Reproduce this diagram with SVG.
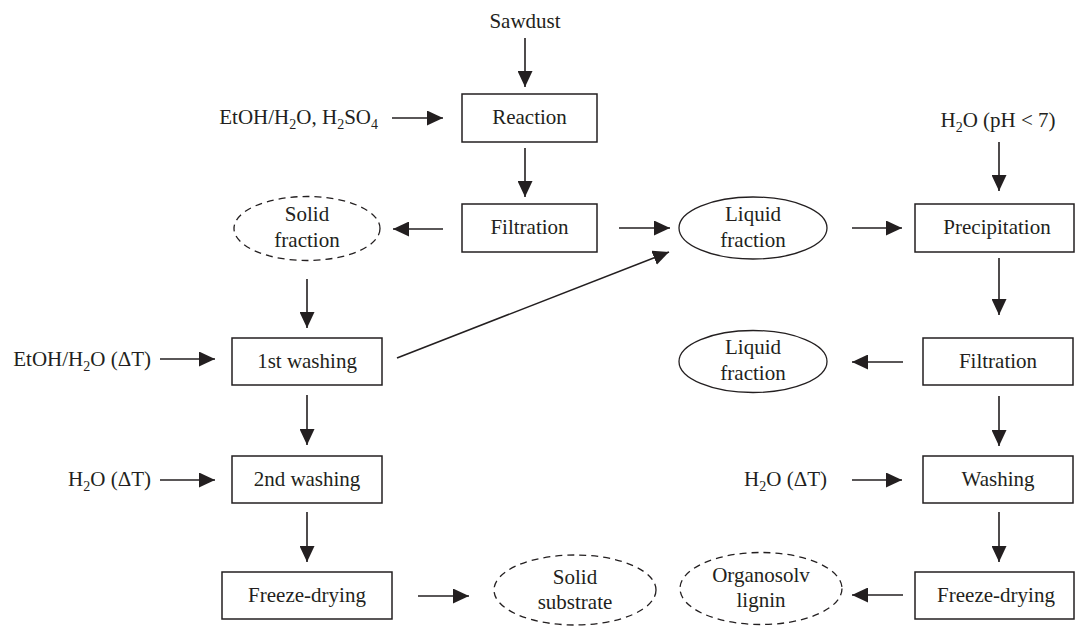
<svg xmlns="http://www.w3.org/2000/svg" width="1075" height="626" viewBox="0 0 1075 626">
<defs>
<marker id="ah" markerUnits="userSpaceOnUse" markerWidth="17" markerHeight="15" refX="16" refY="7.5" orient="auto">
<path d="M0,0 L16,7.5 L0,15 z" fill="#231f20"/>
</marker>
<style>
.box{fill:#fff;stroke:#231f20;stroke-width:1.5}
.ell{fill:#fff;stroke:#231f20;stroke-width:1.3}
.dash{stroke-dasharray:7 5}
.t{font-family:"Liberation Serif","Times New Roman",serif;font-size:21px;fill:#231f20}
.m{text-anchor:middle}
.e{text-anchor:end}
.c line{stroke:#231f20;stroke-width:1.6;marker-end:url(#ah)}
</style>
</defs>
<rect width="1075" height="626" fill="#fff"/>

<g class="c" id="connectors">
<line x1="525" y1="38" x2="525" y2="87"/>
<line x1="392" y1="118" x2="443" y2="118"/>
<line x1="525" y1="148" x2="525" y2="197"/>
<line x1="443" y1="229" x2="393" y2="229"/>
<line x1="619" y1="228" x2="670" y2="228"/>
<line x1="852" y1="228" x2="902" y2="228"/>
<line x1="999" y1="142" x2="999" y2="191"/>
<line x1="999" y1="258" x2="999" y2="315"/>
<line x1="903" y1="362" x2="852" y2="362"/>
<line x1="999" y1="396" x2="999" y2="446"/>
<line x1="852" y1="480" x2="902" y2="480"/>
<line x1="999" y1="512" x2="999" y2="562"/>
<line x1="903" y1="595" x2="852" y2="595"/>
<line x1="307" y1="279" x2="307" y2="328"/>
<line x1="160" y1="359" x2="215" y2="359"/>
<line x1="307" y1="395" x2="307" y2="445"/>
<line x1="160" y1="480" x2="215" y2="480"/>
<line x1="307" y1="512" x2="307" y2="562"/>
<line x1="418" y1="596" x2="469" y2="596"/>
<line x1="397" y1="358" x2="669" y2="252"/>
</g>

<g id="input-sawdust"><text class="t m" x="525" y="28">Sawdust</text></g>
<g id="input-etoh-h2so4"><text class="t e" x="378" y="124">EtOH/H<tspan dy="5" font-size="14">2</tspan><tspan dy="-5">O, H</tspan><tspan dy="5" font-size="14">2</tspan><tspan dy="-5">SO</tspan><tspan dy="5" font-size="14">4</tspan></text></g>
<g id="input-etoh-dt"><text class="t e" x="151" y="366">EtOH/H<tspan dy="5" font-size="14">2</tspan><tspan dy="-5">O (ΔT)</tspan></text></g>
<g id="input-h2o-dt-left"><text class="t e" x="151" y="486">H<tspan dy="5" font-size="14">2</tspan><tspan dy="-5">O (ΔT)</tspan></text></g>
<g id="input-h2o-dt-right"><text class="t e" x="827" y="486">H<tspan dy="5" font-size="14">2</tspan><tspan dy="-5">O (ΔT)</tspan></text></g>
<g id="input-h2o-ph"><text class="t m" x="998" y="127">H<tspan dy="5" font-size="14">2</tspan><tspan dy="-5">O (pH &lt; 7)</tspan></text></g>

<g id="reaction"><rect class="box" x="462" y="94" width="135" height="48"/><text class="t m" x="529.5" y="124">Reaction</text></g>
<g id="filtration-1"><rect class="box" x="462" y="204" width="135" height="48"/><text class="t m" x="529.5" y="234">Filtration</text></g>
<g id="solid-fraction"><ellipse class="ell dash" cx="307" cy="228.5" rx="73" ry="32"/><text class="t m" x="307" y="221">Solid</text><text class="t m" x="307" y="247">fraction</text></g>
<g id="liquid-fraction-1"><ellipse class="ell" cx="753" cy="228" rx="74" ry="31"/><text class="t m" x="753" y="221">Liquid</text><text class="t m" x="753" y="247">fraction</text></g>
<g id="precipitation"><rect class="box" x="915" y="204" width="159" height="48"/><text class="t m" x="997" y="234">Precipitation</text></g>
<g id="first-washing"><rect class="box" x="232" y="338" width="150" height="47"/><text class="t m" x="307" y="368">1st washing</text></g>
<g id="filtration-2"><rect class="box" x="923" y="338" width="150" height="47"/><text class="t m" x="998" y="368">Filtration</text></g>
<g id="liquid-fraction-2"><ellipse class="ell" cx="753" cy="361.5" rx="74" ry="31"/><text class="t m" x="753" y="354">Liquid</text><text class="t m" x="753" y="380">fraction</text></g>
<g id="second-washing"><rect class="box" x="232" y="456" width="150" height="47"/><text class="t m" x="307" y="486">2nd washing</text></g>
<g id="washing"><rect class="box" x="923" y="456" width="150" height="47"/><text class="t m" x="998" y="486">Washing</text></g>
<g id="freeze-drying-1"><rect class="box" x="222" y="572" width="170" height="47"/><text class="t m" x="307" y="602">Freeze-drying</text></g>
<g id="solid-substrate"><ellipse class="ell dash" cx="575" cy="590" rx="81" ry="35"/><text class="t m" x="575" y="584">Solid</text><text class="t m" x="575" y="609">substrate</text></g>
<g id="organosolv-lignin"><ellipse class="ell dash" cx="761" cy="588.5" rx="81" ry="36"/><text class="t m" x="761" y="582">Organosolv</text><text class="t m" x="761" y="607">lignin</text></g>
<g id="freeze-drying-2"><rect class="box" x="915" y="572" width="159" height="47"/><text class="t m" x="996" y="602">Freeze-drying</text></g>
</svg>
